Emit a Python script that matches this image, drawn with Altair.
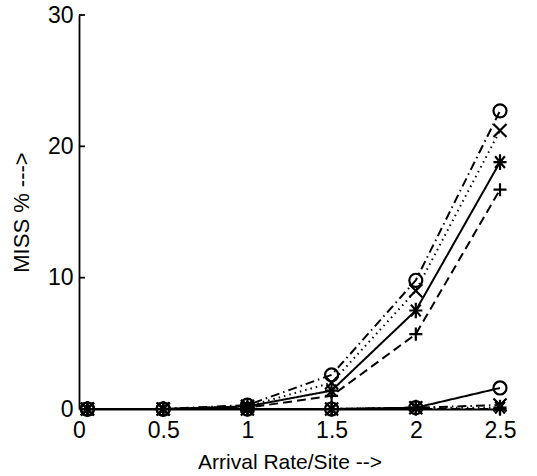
import altair as alt
import pandas as pd

x_vals = [0.05, 0.5, 1.0, 1.5, 2.0, 2.5]

series_names = ["o_hi", "x_hi", "s_hi", "p_hi", "o_lo", "x_lo", "s_lo", "p_lo"]
series_marker = ["o", "x", "*", "+", "o", "x", "*", "+"]
series_style = ["dashdot", "dotted", "solid", "dashed", "solid", "dashdot", "dotted", "dashed"]
series_values = [
    [0, 0, 0.3, 2.6, 9.8, 22.7],
    [0, 0, 0.2, 2.0, 9.0, 21.2],
    [0, 0, 0.2, 1.4, 7.5, 18.8],
    [0, 0, 0.1, 1.0, 5.7, 16.7],
    [0, 0, 0, 0, 0.1, 1.6],
    [0, 0, 0, 0, 0.1, 0.3],
    [0, 0, 0, 0, 0.1, 0.1],
    [0, 0, 0, 0, 0.0, 0.0],
]

y_ticks = [0, 10, 20, 30]
x_ticks = [0, 0.5, 1, 1.5, 2, 2.5]

rows = []
for name, mk, st, vals in zip(series_names, series_marker, series_style, series_values):
    for xv, yv in zip(x_vals, vals):
        rows.append({"series": name, "marker": mk, "style": st, "x": xv, "y": yv})
df = pd.DataFrame(rows)

tick_df = pd.DataFrame({"y": y_ticks[1:], "x0": [0] * 3, "x1": [0.035] * 3})

FONT = "Liberation Sans"

xscale = alt.Scale(domain=[0, 2.5], nice=False, zero=False)
yscale = alt.Scale(domain=[0, 30], nice=False)

xaxis = alt.Axis(values=x_ticks, labelExpr="datum.value", title="Arrival Rate/Site -->",
                 grid=False, ticks=False, labelFontSize=23, labelFont=FONT, labelColor="black",
                 labelPadding=10, titleFont=FONT, titleFontSize=21, titleFontWeight="normal",
                 titleColor="black", titlePadding=9, domainColor="black", domainWidth=1.8,
                 labelFlush=False)
yaxis = alt.Axis(values=y_ticks, title="MISS % --->", grid=False, ticks=False,
                 labelFontSize=23, labelFont=FONT, labelColor="black", labelPadding=6,
                 titleFont=FONT, titleFontSize=22, titleFontWeight="normal", titleColor="black",
                 titlePadding=14, domainColor="black", domainWidth=1.8, labelFlush=False)

style_domain = ["solid", "dashed", "dotted", "dashdot"]
style_range = [[1, 0], [9, 5], [1.5, 4], [9, 4, 1.5, 4]]

lines = alt.Chart(df).mark_line(color="black", strokeWidth=2, clip=False).encode(
    x=alt.X("x:Q", scale=xscale, axis=xaxis),
    y=alt.Y("y:Q", scale=yscale, axis=yaxis),
    detail="series:N",
    strokeDash=alt.StrokeDash("style:N", scale=alt.Scale(domain=style_domain, range=style_range), legend=None),
)

marker_domain = ["o", "x", "*", "+"]
marker_range = [
    "circle",
    "M-1,-1L1,1M-1,1L1,-1",
    "M-1,0L1,0M0,-1.2L0,1.2M-0.75,-0.9L0.75,0.9M-0.75,0.9L0.75,-0.9",
    "M-1,0L1,0M0,-1L0,1",
]

points = alt.Chart(df).mark_point(color="black", filled=False, size=170, strokeWidth=2.2,
                                  opacity=1, clip=False).encode(
    x="x:Q",
    y="y:Q",
    shape=alt.Shape("marker:N", scale=alt.Scale(domain=marker_domain, range=marker_range), legend=None),
)

ticks = alt.Chart(tick_df).mark_rule(color="black", strokeWidth=1.8).encode(
    x="x0:Q", x2="x1:Q", y="y:Q"
)

chart = alt.layer(lines, points, ticks).properties(
    width=421, height=394,
    padding={"left": 79, "top": 15, "right": 37, "bottom": 67},
    autosize=alt.AutoSizeParams(type="none"),
    background="white",
).configure_view(stroke=None)

chart.save("out.html", embed_options={"renderer": "svg", "actions": False})
